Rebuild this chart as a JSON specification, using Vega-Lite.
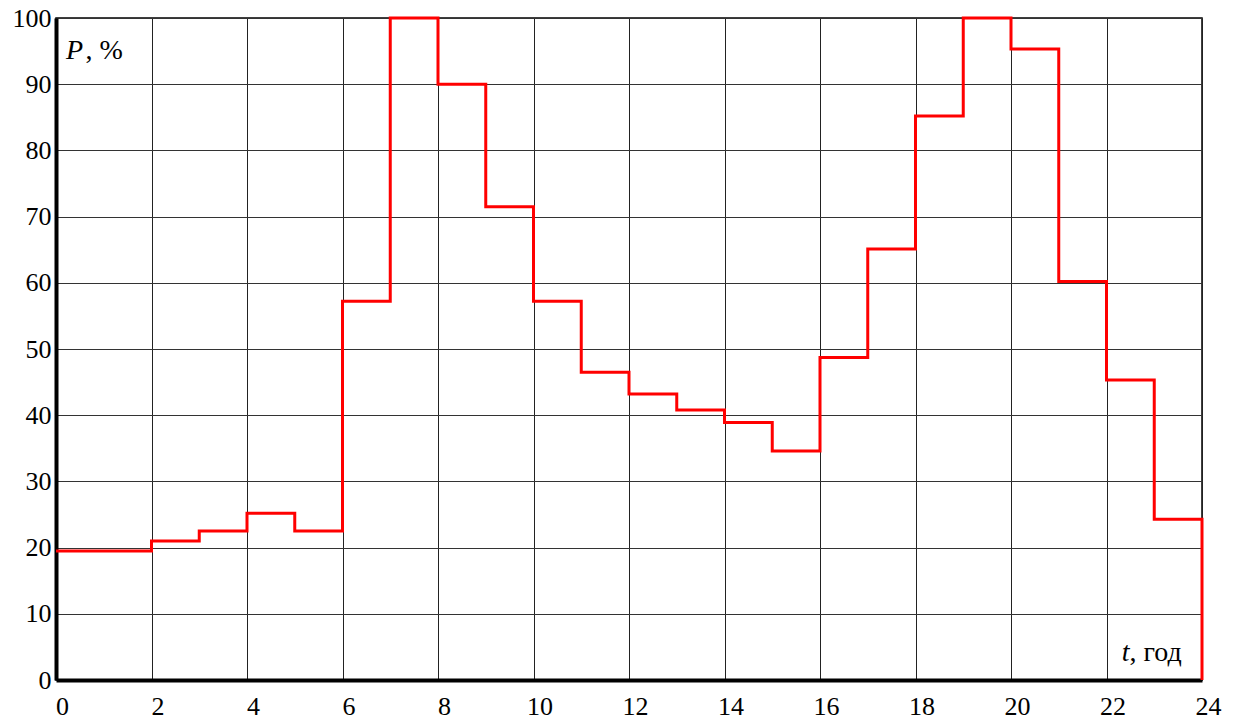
{
  "$schema": "https://vega.github.io/schema/vega-lite/v6.json",
  "width": 1146,
  "height": 662,
  "autosize": "none",
  "padding": {"left": 56, "top": 18, "right": 35, "bottom": 40},
  "background": "white",
  "config": {
    "view": {"stroke": "black", "strokeWidth": 1.5},
    "font": "Liberation Serif, Times New Roman, serif",
    "axis": {"labelFont": "Liberation Serif, Times New Roman, serif"}
  },
  "datasets": {
    "load": [
      {"i": 0, "t": 0, "p": 19.5},
      {"i": 1, "t": 2, "p": 21},
      {"i": 2, "t": 3, "p": 22.5},
      {"i": 3, "t": 4, "p": 25.2},
      {"i": 4, "t": 5, "p": 22.5},
      {"i": 5, "t": 6, "p": 57.2},
      {"i": 6, "t": 7, "p": 100},
      {"i": 7, "t": 8, "p": 90},
      {"i": 8, "t": 9, "p": 71.5},
      {"i": 9, "t": 10, "p": 57.2},
      {"i": 10, "t": 11, "p": 46.5},
      {"i": 11, "t": 12, "p": 43.2},
      {"i": 12, "t": 13, "p": 40.8},
      {"i": 13, "t": 14, "p": 38.9},
      {"i": 14, "t": 15, "p": 34.6},
      {"i": 15, "t": 16, "p": 48.7},
      {"i": 16, "t": 17, "p": 65.1},
      {"i": 17, "t": 18, "p": 85.2},
      {"i": 18, "t": 19, "p": 100},
      {"i": 19, "t": 20, "p": 95.3},
      {"i": 20, "t": 21, "p": 60.2},
      {"i": 21, "t": 22, "p": 45.3},
      {"i": 22, "t": 23, "p": 24.3},
      {"i": 23, "t": 24, "p": 24.3},
      {"i": 24, "t": 24, "p": 0}
    ],
    "labels": [
      {"t": 0.21, "tb": 0.62, "p": 95, "a": "P", "b": ", %"},
      {"t": 22.32, "tb": 22.48, "p": 4.1, "a": "t", "b": ", год"}
    ]
  },
  "layer": [
    {
      "data": {"name": "load"},
      "mark": {"type": "line", "interpolate": "step-after", "color": "#ff0000", "strokeWidth": 3, "clip": false},
      "encoding": {
        "x": {
          "field": "t", "type": "quantitative",
          "scale": {"domain": [0, 24], "nice": false, "zero": false},
          "axis": {
            "title": null, "values": [0,2,4,6,8,10,12,14,16,18,20,22,24],
            "grid": true, "gridColor": "#222", "gridWidth": 1, "gridOpacity": 1,
            "domainColor": "black", "domainWidth": 4, "ticks": false,
            "labelFont": "Liberation Serif, Times New Roman, serif", "labelFontSize": 26, "labelColor": "black",
            "labelPadding": 13, "labelOffset": 6, "labelFlush": false
          }
        },
        "y": {
          "field": "p", "type": "quantitative",
          "scale": {"domain": [0, 100], "nice": false},
          "axis": {
            "title": null, "values": [0,10,20,30,40,50,60,70,80,90,100],
            "grid": true, "gridColor": "#333", "gridWidth": 1, "gridOpacity": 1,
            "domainColor": "black", "domainWidth": 4, "ticks": false,
            "labelFont": "Liberation Serif, Times New Roman, serif", "labelFontSize": 26, "labelColor": "black",
            "labelPadding": 5, "labelFlush": false
          }
        },
        "order": {"field": "i", "type": "quantitative"}
      }
    },
    {
      "data": {"name": "labels"},
      "mark": {"type": "text", "font": "Liberation Serif, Times New Roman, serif", "fontSize": 28, "fontStyle": "italic", "align": "left", "baseline": "middle", "color": "black"},
      "encoding": {
        "x": {"field": "t", "type": "quantitative"},
        "y": {"field": "p", "type": "quantitative"},
        "text": {"field": "a"}
      }
    },
    {
      "data": {"name": "labels"},
      "mark": {"type": "text", "font": "Liberation Serif, Times New Roman, serif", "fontSize": 28, "align": "left", "baseline": "middle", "color": "black"},
      "encoding": {
        "x": {"field": "tb", "type": "quantitative"},
        "y": {"field": "p", "type": "quantitative"},
        "text": {"field": "b"}
      }
    }
  ]
}
